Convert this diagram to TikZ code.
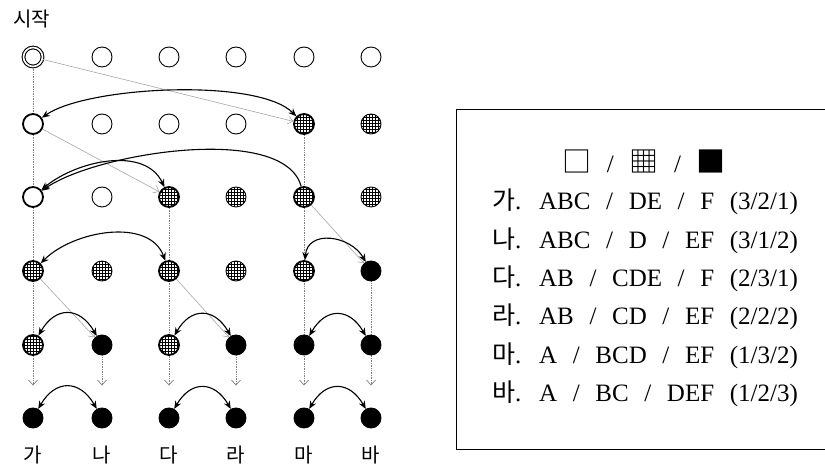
\documentclass[tikz,border=0pt]{standalone}
\usepackage{fontspec}
\setmainfont{Liberation Serif}
\newfontfamily\kr{Noto Sans CJK KR}
\newfontfamily\boxfont{Liberation Serif}[WordSpace=2.5]
\usetikzlibrary{arrows.meta,patterns,backgrounds}
\begin{document}
\begin{tikzpicture}[x=1pt,y=1pt,
  dot/.style={circle,draw,minimum size=20pt,inner sep=0pt,line width=0.9pt,fill=white},
  wt/.style={dot},
  hat/.style={dot,postaction={pattern=grid}},
  blk/.style={dot,fill=black},
  thk/.style={line width=1.8pt},
  startdot/.style={circle,draw,minimum size=19pt,inner sep=0pt,line width=1.1pt,double,double distance=1.6pt},
  vline/.style={draw=gray,densely dotted,line width=0.7pt},
  downarr/.style={vline,-{Straight Barb[length=5pt,width=9pt]},shorten >=22pt},
  diag/.style={draw=gray!70,line width=0.6pt,-{Straight Barb[length=5pt,width=8pt]}},
  swap/.style={line width=1.1pt,{Stealth[length=8pt,width=6.5pt]}-{Stealth[length=8pt,width=6.5pt]}},
  swapone/.style={line width=1.1pt,-{Stealth[length=8pt,width=6.5pt]}},
  lab/.style={font=\kr\fontsize{20}{24}\selectfont},
  boxline/.style={anchor=base west,inner sep=0pt,font=\boxfont\fontsize{25}{28}\selectfont}
]
\useasboundingbox (0,0) rectangle (825,468);

% title
\node[lab] (start) at (32,449) {시작};

% row 1
\node[startdot] (n10) at (33,411) {};
\node[wt] (n11) at (102,411) {};
\node[wt] (n12) at (169,411) {};
\node[wt] (n13) at (236,411) {};
\node[wt] (n14) at (304,411) {};
\node[wt] (n15) at (371,411) {};
% row 2
\node[wt,thk] (n20) at (33,344) {};
\node[wt] (n21) at (102,344) {};
\node[wt] (n22) at (169,344) {};
\node[wt] (n23) at (236,344) {};
\node[hat,thk] (n24) at (304,344) {};
\node[hat] (n25) at (371,344) {};
% row 3
\node[wt,thk] (n30) at (33,271) {};
\node[wt] (n31) at (102,271) {};
\node[hat,thk] (n32) at (169,271) {};
\node[hat] (n33) at (236,271) {};
\node[hat,thk] (n34) at (304,271) {};
\node[hat] (n35) at (371,271) {};
% row 4
\node[hat,thk] (n40) at (33,197) {};
\node[hat] (n41) at (102,197) {};
\node[hat,thk] (n42) at (169,197) {};
\node[hat] (n43) at (236,197) {};
\node[hat,thk] (n44) at (304,197) {};
\node[blk] (n45) at (371,197) {};
% row 5
\node[hat,thk] (n50) at (33,123) {};
\node[blk] (n51) at (102,123) {};
\node[hat,thk] (n52) at (169,123) {};
\node[blk] (n53) at (236,123) {};
\node[blk] (n54) at (304,123) {};
\node[blk] (n55) at (371,123) {};
% row 6
\node[blk] (n60) at (33,50) {};
\node[blk] (n61) at (102,50) {};
\node[blk] (n62) at (169,50) {};
\node[blk] (n63) at (236,50) {};
\node[blk] (n64) at (304,50) {};
\node[blk] (n65) at (371,50) {};

% bottom labels
\node[lab] (l0) at (33,13) {가};
\node[lab] (l1) at (102,13) {나};
\node[lab] (l2) at (169,13) {다};
\node[lab] (l3) at (236,13) {라};
\node[lab] (l4) at (304,13) {마};
\node[lab] (l5) at (371,13) {바};

\begin{pgfonlayer}{background}
  \draw[downarr] (n10) -- (n60);
  \draw[downarr] (n24) -- (n64);
  \draw[downarr] (n32) -- (n62);
  \draw[downarr] (n45) -- (n65);
  \draw[downarr] (n51) -- (n61);
  \draw[downarr] (n53) -- (n63);
\end{pgfonlayer}

% diagonal moves
\draw[diag] (n10) -- (n24);
\draw[diag] (n20) -- (n32);
\draw[diag] (n34) -- (n45);
\draw[diag] (n40) -- (n51);
\draw[diag] (n42) -- (n53);

% swaps
\draw[swap] (n24) to[out=135,in=35,looseness=0.55] (n20);
\draw[swapone] (n34) to[out=105,in=35,looseness=0.65] (n30);
\draw[swap] (n30) to[out=40,in=115,looseness=0.95] (n32);
\draw[swap] (n40) to[out=45,in=110,looseness=0.95] (n42);
\draw[swap] (n44) to[out=85,in=120,looseness=1.3] (n45);
\draw[swap] (n50) to[out=60,in=120,looseness=1.5] (n51);
\draw[swap] (n52) to[out=60,in=120,looseness=1.5] (n53);
\draw[swap] (n54) to[out=60,in=120,looseness=1.5] (n55);
\draw[swap] (n60) to[out=60,in=120,looseness=1.5] (n61);
\draw[swap] (n62) to[out=60,in=120,looseness=1.5] (n63);
\draw[swap] (n64) to[out=60,in=120,looseness=1.5] (n65);

% legend box (right side runs off the page)
\draw[line width=0.8pt] (830,359) -- (456,359) -- (456,19) -- (830,19);
\node[anchor=base,inner sep=0pt,font=\boxfont\fontsize{25}{28}\selectfont] (sym) at (644,295)
  {{\kr\fontsize{29}{30}\selectfont □} / {\kr\fontsize{29}{30}\selectfont ▦} / {\kr\fontsize{29}{30}\selectfont ■}};
\node[boxline] (ga) at (492,258) {{\kr 가}. ABC / DE / F (3/2/1)};
\node[boxline] (na) at (492,219.7) {{\kr 나}. ABC / D / EF (3/1/2)};
\node[boxline] (da) at (492,181.4) {{\kr 다}. AB / CDE / F (2/3/1)};
\node[boxline] (ra) at (492,143.1) {{\kr 라}. AB / CD / EF (2/2/2)};
\node[boxline] (ma) at (492,104.8) {{\kr 마}. A / BCD / EF (1/3/2)};
\node[boxline] (ba) at (492,66.5) {{\kr 바}. A / BC / DEF (1/2/3)};
\end{tikzpicture}
\end{document}
